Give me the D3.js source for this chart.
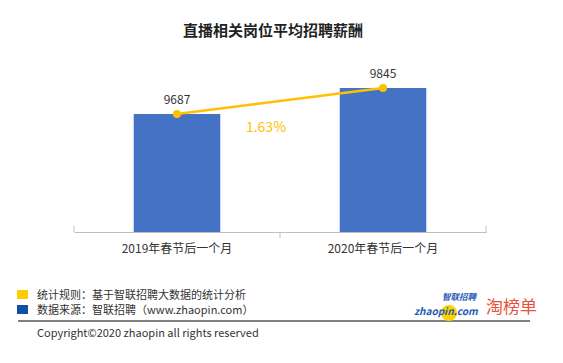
<!DOCTYPE html>
<html>
<head>
<meta charset="utf-8">
<script src="https://cdn.jsdelivr.net/npm/d3@7"></script>
<style>
  body { margin: 0; background: #fff; }
  text { font-family: "Noto Sans CJK SC", "Noto Sans", sans-serif; }
</style>
</head>
<body>
<svg id="chart"></svg>
<script>
// chart data
var categories = ["2019年春节后一个月", "2020年春节后一个月"];
var salaries = [9687, 9845];
var growthLabel = "1.63%";
var title = "直播相关岗位平均招聘薪酬";
var legendItems = ["统计规则：基于智联招聘大数据的统计分析", "数据来源：智联招聘（www.zhaopin.com）"];
var legendColors = ["#FFCC00", "#0F4FA8"];

function main() {
    const W = 563, H = 363;
    const svg = d3.select('#chart').attr('width', W).attr('height', H);

    // title
    svg.append('text')
      .attr('x', 273).attr('y', 36)
      .attr('text-anchor', 'middle')
      .attr('font-size', 15).attr('font-weight', 'bold')
      .attr('fill', '#222')
      .text(title);

    // scales
    const xScale = d3.scaleBand()
      .domain(categories)
      .range([74, 486])
      .paddingInner(0.58).paddingOuter(0.29);

    const yScale = d3.scaleLinear()
      .domain([8970, 10015])
      .range([232, 60]);

    // bars
    svg.selectAll('rect.bar')
      .data(salaries)
      .enter()
      .append('rect')
      .attr('class', 'bar')
      .attr('x', (d, i) => xScale(categories[i]))
      .attr('y', d => yScale(d))
      .attr('width', xScale.bandwidth())
      .attr('height', d => yScale.range()[0] - yScale(d))
      .attr('fill', '#4472C4');

    // x axis
    const xAxis = d3.axisBottom(xScale).tickSize(0).tickSizeOuter(0);
    const gx = svg.append('g')
      .attr('transform', 'translate(0,232)')
      .call(xAxis);
    gx.select('.domain').attr('stroke', '#bfbfbf');
    gx.selectAll('.tick text')
      .attr('dy', 0).attr('y', 21)
      .attr('font-size', 12).attr('fill', '#333')
      .style('font-family', '"Noto Sans CJK SC", sans-serif');
    // category separator ticks
    const edges = [xScale.range()[0], (xScale.range()[0] + xScale.range()[1]) / 2, xScale.range()[1]];
    svg.selectAll('line.sep')
      .data(edges)
      .enter()
      .append('line')
      .attr('x1', d => d).attr('x2', d => d)
      .attr('y1', 232).attr('y2', (d, i) => i === 1 ? 238 : 226)
      .attr('stroke', '#bfbfbf');

    // line over bars
    const cx = (d, i) => xScale(categories[i]) + xScale.bandwidth() / 2;
    const line = d3.line()
      .x((d, i) => cx(d, i))
      .y(d => yScale(d));
    svg.append('path')
      .datum(salaries)
      .attr('d', line)
      .attr('fill', 'none')
      .attr('stroke', '#FFC000')
      .attr('stroke-width', 2.5);
    svg.selectAll('circle.pt')
      .data(salaries)
      .enter()
      .append('circle')
      .attr('cx', cx)
      .attr('cy', d => yScale(d))
      .attr('r', 4)
      .attr('fill', '#FFC000');

    // value labels
    svg.selectAll('text.val')
      .data(salaries)
      .enter()
      .append('text')
      .attr('x', cx)
      .attr('y', d => yScale(d) - 10)
      .attr('text-anchor', 'middle')
      .attr('font-size', 12).attr('fill', '#333')
      .text(d => d);

    // growth label
    svg.append('text')
      .attr('x', 266).attr('y', 132)
      .attr('text-anchor', 'middle')
      .attr('font-size', 14).attr('fill', '#FFC000')
      .text(growthLabel);

    // legend
    legendItems.forEach(function (t, i) {
      svg.append('rect')
        .attr('x', 17).attr('y', 290 + i * 15)
        .attr('width', 11).attr('height', 9)
        .attr('fill', legendColors[i]);
      svg.append('text')
        .attr('x', 37).attr('y', 299 + i * 15)
        .attr('font-size', 11).attr('fill', '#333')
        .text(t);
    });

    // separator
    svg.append('line')
      .attr('x1', 18).attr('x2', 530)
      .attr('y1', 321).attr('y2', 321)
      .attr('stroke', '#808080').attr('stroke-width', 2);

    svg.append('text')
      .attr('x', 37).attr('y', 337)
      .attr('font-size', 11).attr('fill', '#333')
      .text('Copyright©2020 zhaopin all rights reserved');

    // logos
    svg.append('circle')
      .attr('cx', 449).attr('cy', 313).attr('r', 8)
      .attr('fill', '#FFD200');
    svg.append('text')
      .attr('x', 442).attr('y', 300)
      .attr('font-size', 8.5).attr('font-weight', 'bold').attr('font-style', 'italic')
      .attr('fill', '#1F5BB5')
      .text('智联招聘');
    svg.append('text')
      .attr('x', 414).attr('y', 315)
      .attr('font-size', 10).attr('font-weight', 'bold').attr('font-style', 'italic')
      .attr('fill', '#1F5BB5')
      .text('zhaopin.com');
    svg.append('text')
      .attr('x', 486).attr('y', 313)
      .attr('font-size', 17)
      .attr('fill', '#E8513A')
      .text('淘榜单');
}
main();
</script>
</body>
</html>
